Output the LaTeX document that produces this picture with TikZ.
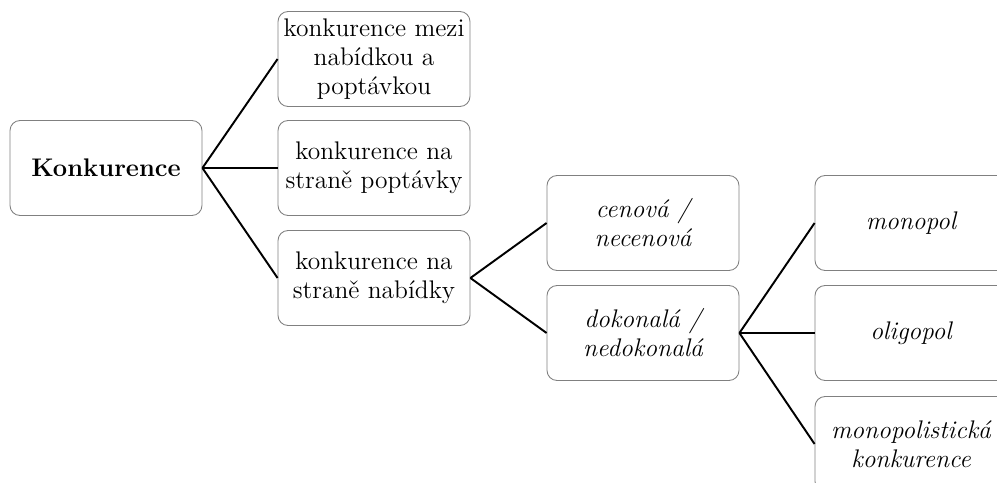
\documentclass[tikz,border=0pt]{standalone}
\usepackage{tikz}
\usetikzlibrary{positioning}

\begin{document}
\begin{tikzpicture}[x=0.02cm, y=-0.02cm,
  box/.style={draw=black!50, line width=0.5pt, rounded corners=0.2cm, fill=white,
    minimum width=3.84cm, minimum height=1.9cm, align=center, inner sep=2pt,
    font=\fontsize{14.5}{16.5}\selectfont},
  link/.style={line width=1.1pt, black}]
  % ohraniceni obrazku
  \clip (0,0) rectangle (997,483);

  % koren
  \node[box] (kon) at (106,168) {\textbf{Konkurence}};

  % druhy sloupec
  \node[box] (a1) at (374,59) {konkurence mezi\\nabídkou a\\poptávkou};
  \node[box] (a2) at (374,168) {konkurence na\\straně poptávky};
  \node[box] (a3) at (374,278) {konkurence na\\straně nabídky};

  % treti sloupec
  \node[box] (b1) at (643,223) {\itshape cenová /\\\itshape necenová};
  \node[box] (b2) at (643,333) {\itshape dokonalá /\\\itshape nedokonalá};

  % ctvrty sloupec
  \node[box] (c1) at (911,223) {\itshape monopol};
  \node[box] (c2) at (911,333) {\itshape oligopol};
  \node[box] (c3) at (911,444) {\itshape monopolistická\\\itshape konkurence};

  % spojnice
  \draw[link] (kon.east) -- (a1.west);
  \draw[link] (kon.east) -- (a2.west);
  \draw[link] (kon.east) -- (a3.west);
  \draw[link] (a3.east) -- (b1.west);
  \draw[link] (a3.east) -- (b2.west);
  \draw[link] (b2.east) -- (c1.west);
  \draw[link] (b2.east) -- (c2.west);
  \draw[link] (b2.east) -- (c3.west);

\end{tikzpicture}
\end{document}
